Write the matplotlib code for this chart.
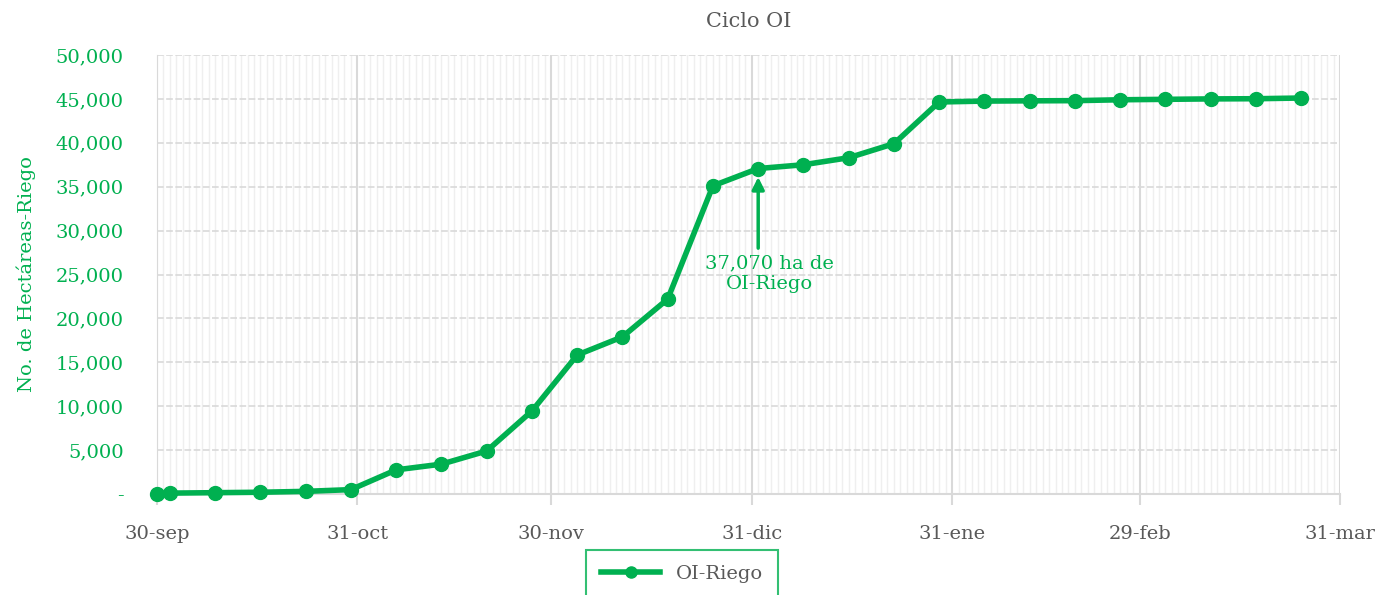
import numpy as np
import pandas as pd
import matplotlib
matplotlib.use("Agg")
import matplotlib.pyplot as plt
import matplotlib.dates as mdates
from matplotlib.ticker import FuncFormatter

# data
fechas = ["2023-09-30", "2023-10-02", "2023-10-09", "2023-10-16", "2023-10-23",
          "2023-10-30", "2023-11-06", "2023-11-13", "2023-11-20", "2023-11-27",
          "2023-12-04", "2023-12-11", "2023-12-18", "2023-12-25", "2024-01-01",
          "2024-01-08", "2024-01-15", "2024-01-22", "2024-01-29", "2024-02-05",
          "2024-02-12", "2024-02-19", "2024-02-26", "2024-03-04", "2024-03-11",
          "2024-03-18", "2024-03-25"]
hectareas = [0, 100, 150, 200, 300, 500, 2750, 3400, 4900, 9450,
             15830, 17900, 22200, 35100, 37070, 37500, 38300, 39900, 44650, 44750,
             44780, 44800, 44900, 44950, 45000, 45020, 45100]
month_ticks = ["2023-09-30", "2023-10-31", "2023-11-30", "2023-12-31",
               "2024-01-31", "2024-02-29", "2024-03-31"]
month_labels = ["30-sep", "31-oct", "30-nov", "31-dic", "31-ene", "29-feb", "31-mar"]

GREEN = "#00B050"
GRAY = "#595959"

plt.rcParams['font.family'] = ['DejaVu Serif']

fig = plt.figure(figsize=(13.83, 5.95), dpi=100)
ax = fig.add_axes([157 / 1383, 1 - 494 / 595, (1340 - 157) / 1383, (494 - 55) / 595])

x = pd.to_datetime(fechas)
ax.plot(x, hectareas, color=GREEN, lw=4, marker="o", ms=10, label="OI-Riego",
        zorder=5, clip_on=False)

xt = pd.to_datetime(month_ticks)
ax.set_xlim(xt[0], xt[-1])
ax.set_ylim(0, 50000)
ax.set_yticks(np.arange(0, 50001, 5000))
ax.yaxis.set_major_formatter(FuncFormatter(lambda v, p: "-" if v == 0 else f"{int(v):,}"))

ax.set_xticks(xt)
ax.set_xticklabels(month_labels)
ax.xaxis.set_minor_locator(mdates.DayLocator())

ax.grid(axis="x", which="minor", color="#EFEFEF", lw=1)
ax.grid(axis="x", which="major", color="#D9D9D9", lw=1.5)
ax.grid(axis="y", which="major", color="#D9D9D9", lw=1.2, ls=(0, (4, 1.5)))
ax.set_axisbelow(True)

for s in ["top", "right"]:
    ax.spines[s].set_visible(False)
ax.spines["left"].set_color("#D9D9D9")
ax.spines["bottom"].set_color("#D9D9D9")
ax.spines["bottom"].set_linewidth(1.5)

ax.tick_params(axis="y", length=0, colors=GREEN, labelsize=14, pad=24)
ax.tick_params(axis="x", which="major", length=8, width=1.5, color="#D9D9D9",
               labelcolor=GRAY, labelsize=14, pad=14)
ax.tick_params(axis="x", which="minor", length=0)

ax.set_ylabel("No. de Hectáreas-Riego", color=GREEN, fontsize=14, labelpad=14)
ax.set_title("Ciclo OI", color=GRAY, fontsize=15, pad=20)

# annotation: vertical arrow + text below
ax.annotate("", xy=(x[14], 36100), xytext=(x[14], 28000),
            arrowprops=dict(arrowstyle="-|>", color=GREEN, lw=2.5, mutation_scale=18,
                            shrinkA=0, shrinkB=0), zorder=6)
ax.text(x[14] + pd.Timedelta(days=1.7), 25100, "37,070 ha de\nOI-Riego",
        ha="center", va="center", color=GREEN, fontsize=14, linespacing=1.15)

leg = fig.legend(loc="upper center", bbox_to_anchor=(682 / 1383, 1 - 540 / 595),
                 frameon=True, fancybox=False, fontsize=14, handlelength=3,
                 borderpad=0.8, labelcolor=GRAY, markerscale=0.8)
leg.get_frame().set_edgecolor(GREEN)
leg.get_frame().set_linewidth(1.5)

fig.savefig("out.png", dpi=100)
